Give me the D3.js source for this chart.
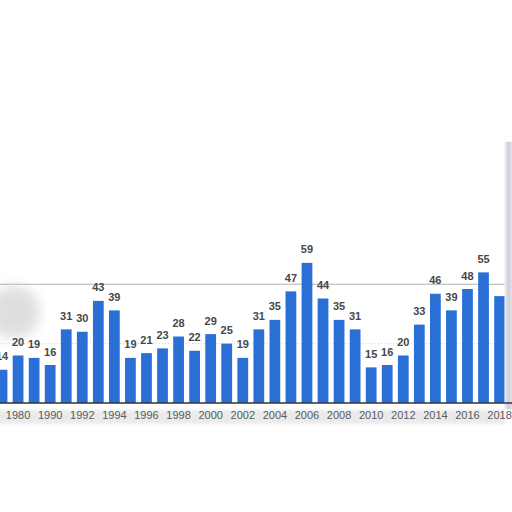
<!DOCTYPE html>
<html><head><meta charset="utf-8">
<script src="https://cdn.jsdelivr.net/npm/d3@7"></script>
<style>html,body{margin:0;padding:0;background:#fff;overflow:hidden}</style>
</head><body>
<svg id="chart" width="512" height="512"></svg>
<script>
const categories = ["1975","1980","1985","1990","1991","1992","1993","1994","1995","1996","1997","1998","1999","2000","2001","2002","2003","2004","2005","2006","2007","2008","2009","2010","2011","2012","2013","2014","2015","2016","2017","2018"];
const values = [14,20,19,16,31,30,43,39,19,21,23,28,22,29,25,19,31,35,47,59,44,35,31,15,16,20,33,46,39,48,55,45];
const tickLabels = ["1980","1990","1992","1994","1996","1998","2000","2002","2004","2006","2008","2010","2012","2014","2016","2018"];
const gridValues = [25, 50];
const hiddenLabels = ["2018"];

const svg = d3.select("#chart");
const defs = svg.append("defs");
defs.append("filter").attr("id","blur").attr("x","-50%").attr("y","-50%").attr("width","200%").attr("height","200%")
  .append("feGaussianBlur").attr("stdDeviation",6);
defs.append("filter").attr("id","blur2").append("feGaussianBlur").attr("stdDeviation",1.5);
const sg = defs.append("linearGradient").attr("id","strip").attr("x1",0).attr("x2",1);
sg.append("stop").attr("offset","0").attr("stop-color","#eef0f3");
sg.append("stop").attr("offset","0.5").attr("stop-color","#cdd0d6");
sg.append("stop").attr("offset","1").attr("stop-color","#e3e5e9");

const x = d3.scaleBand().domain(categories).range([-6, 507.6]).paddingInner(0.33).paddingOuter(0.165);
const y = d3.scaleLinear().domain([0, 100]).range([403, 165.5]);

// label shadow band
svg.append("rect").attr("x",-10).attr("y",410).attr("width",515).attr("height",14)
  .attr("fill","#e6e6e6").attr("filter","url(#blur2)").attr("opacity",0.8);
// left smudge
svg.append("ellipse").attr("cx",14).attr("cy",312).attr("rx",26).attr("ry",26)
  .attr("fill","#d4d4d4").attr("filter","url(#blur)").attr("opacity",0.75);

// gridlines
svg.selectAll("line.grid").data(gridValues).join("line").attr("class","grid")
  .attr("x1",0).attr("x2",505).attr("y1",d => y(d)).attr("y2",d => y(d))
  .attr("stroke", d => d === 50 ? "#b4b4b4" : "#d0d0d0")
  .attr("stroke-width", d => d === 50 ? 1.2 : 1)
  .attr("stroke-dasharray", d => d === 50 ? null : "1,2");
svg.append("line").attr("x1",0).attr("x2",505).attr("y1",y(50)).attr("y2",y(50))
  .attr("stroke","#cccccc").attr("stroke-width",4).attr("filter","url(#blur2)").attr("opacity",0.7);

// bars
svg.selectAll("rect.bar").data(categories).join("rect").attr("class","bar")
  .attr("x", d => x(d)).attr("width", x.bandwidth())
  .attr("y", (d,i) => y(values[i])).attr("height", (d,i) => y(0) - y(values[i]))
  .attr("fill","#2a6fd6");

// right strip
svg.append("rect").attr("x", x("2018") + x.bandwidth() - 0.5).attr("y", y(110)).attr("width", 8).attr("height", y(0) - y(110) + 6)
  .attr("fill","url(#strip)");

// value labels
svg.selectAll("text.val").data(categories.filter(c => !hiddenLabels.includes(c))).join("text").attr("class","val")
  .attr("x", d => x(d) + x.bandwidth()/2)
  .attr("y", d => y(values[categories.indexOf(d)]) - 9.5)
  .attr("text-anchor","middle")
  .attr("font-family","'Liberation Sans', Arial, sans-serif")
  .attr("font-weight","bold").attr("font-size","11px").attr("fill","#474747")
  .text(d => values[categories.indexOf(d)]);

// axis
const axis = d3.axisBottom(x).tickValues(tickLabels).tickSize(0).tickPadding(8);
const ag = svg.append("g").attr("transform", `translate(0,${y(0)})`).call(axis);
ag.select(".domain").attr("stroke","#333").attr("stroke-width",1.5).attr("d","M-10,0H512");
ag.selectAll("text").attr("font-family","'Liberation Sans', Arial, sans-serif")
  .attr("font-size","11px").attr("fill","#5a5a5a");
</script>
</body></html>
